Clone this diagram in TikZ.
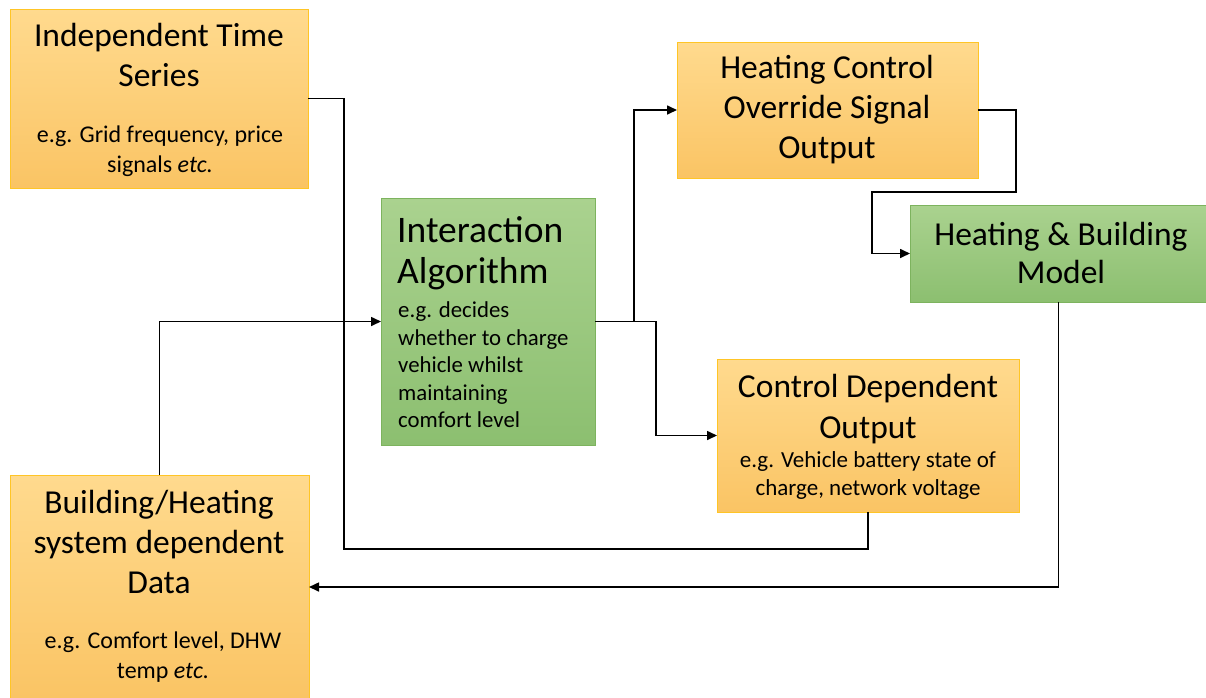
\documentclass[tikz,border=0pt]{standalone}
\usepackage{fontspec}
\setmainfont{Carlito}
\usetikzlibrary{arrows.meta}
\definecolor{otop}{HTML}{FFDA8E}
\definecolor{obot}{HTML}{FAC464}
\definecolor{oline}{HTML}{FFC526}
\definecolor{gtop}{HTML}{AAD28F}
\definecolor{gbot}{HTML}{8CBF70}
\definecolor{gline}{HTML}{7DB35E}
\tikzset{
  obox/.style={draw=oline, line width=0.8pt, top color=otop, bottom color=obot, inner sep=0pt, outer sep=0pt, anchor=north west},
  gbox/.style={draw=gline, line width=0.8pt, top color=gtop, bottom color=gbot, inner sep=0pt, outer sep=0pt, anchor=north west},
  ttl/.style={font=\fontsize{33.5}{40}\selectfont, anchor=base, inner sep=0pt},
  sub/.style={font=\fontsize{24}{28}\selectfont, anchor=base, inner sep=0pt},
  subc/.style={font=\fontsize{23}{28}\selectfont, anchor=base, inner sep=0pt},
  subl/.style={font=\fontsize{22.8}{27}\selectfont, anchor=base west, inner sep=0pt},
  ttll/.style={font=\fontsize{37.5}{42}\selectfont, anchor=base west, inner sep=0pt},
  line/.style={draw=black, line width=1.6pt},
  arr/.style={line, -{Triangle[length=10pt,width=9pt]}}
}
\begin{document}
\begin{tikzpicture}[x=1pt,y=-1pt]
\useasboundingbox (0,0) rectangle (1206,697);
% boxes
\node[obox, minimum width=298pt, minimum height=179pt] (its) at (10,9) {};
\node[gbox, minimum width=214pt, minimum height=247pt] (ia) at (381,198) {};
\node[obox, minimum width=301pt, minimum height=136pt] (hco) at (677,42) {};
\node[gbox, minimum width=297pt, minimum height=97pt] (hbm) at (910,205) {};
\node[obox, minimum width=302pt, minimum height=153pt] (cdo) at (717,359) {};
\node[obox, minimum width=299pt, minimum height=224pt] (bhd) at (10,475) {};
% texts
\node[ttl] (its1) at (159,46) {Independent Time};
\node[ttl] (its2) at (159,86) {Series};
\node[sub] (its3) at (160,142) {e.g. Grid frequency, price};
\node[sub] (its4) at (160,172) {signals \textit{etc.}};
\node[ttll] (ia1) at (397,242) {Interaction};
\node[ttll] (ia2) at (397,283) {Algorithm};
\node[subl] (ia3) at (398,317) {e.g. decides};
\node[subl] (ia4) at (398,345) {whether to charge};
\node[subl] (ia5) at (398,372) {vehicle whilst};
\node[subl] (ia6) at (398,400) {maintaining};
\node[subl] (ia7) at (398,427) {comfort level};
\node[ttl] (hco1) at (827,78) {Heating Control};
\node[ttl] (hco2) at (827,118) {Override Signal};
\node[ttl] (hco3) at (827,158) {Output};
\node[ttl] (hbm1) at (1061,245) {Heating \& Building};
\node[ttl] (hbm2) at (1061,283) {Model};
\node[ttl] (cdo1) at (868,397) {Control Dependent};
\node[ttl] (cdo2) at (868,438) {Output};
\node[subc] (cdo3) at (868,467) {e.g. Vehicle battery state of};
\node[subc] (cdo4) at (868,495) {charge, network voltage};
\node[ttl] (bhd1) at (159,513) {Building/Heating};
\node[ttl] (bhd2) at (159,553) {system dependent};
\node[ttl] (bhd3) at (159,593) {Data};
\node[sub] (bhd4) at (163,648) {e.g. Comfort level, DHW};
\node[sub] (bhd5) at (163,678) {temp \textit{etc.}};
% connectors
\coordinate (split) at ([xshift=39pt]ia.east);
\draw[line] (its.east) -- ++(36,0) coordinate (c1) -- (c1 |- 0,549) -| (cdo.south);
\draw[arr] (bhd.north) |- (ia.west);
\draw[line] (ia.east) -- (split);
\draw[arr] (split) |- (hco.west);
\draw[arr] (split) -- ++(22,0) |- (cdo.west);
\draw[arr] (hco.east) -- ++(38,0) -- ++(0,82) -- ++(-144,0) |- (hbm.west);
\draw[arr] (hbm.south) |- (bhd.east);
\end{tikzpicture}
\end{document}
